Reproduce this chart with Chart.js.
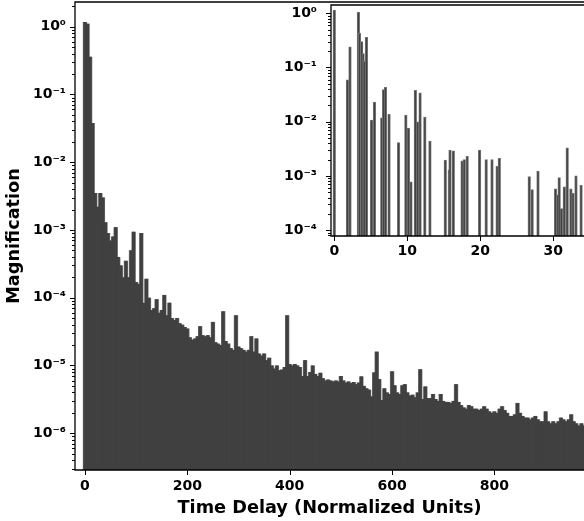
<!DOCTYPE html>
<html>
<head>
<meta charset="utf-8">
<script src="https://cdn.jsdelivr.net/npm/chart.js@4.4.0/dist/chart.umd.min.js"></script>
<style>
  body { margin: 0; background: #fff; }
  #wrap { position: relative; width: 584px; height: 521px; overflow: hidden; }
  #main { position: absolute; left: 0; top: 0; }
  #inset { position: absolute; left: 270px; top: 0; }
</style>
</head>
<body>
<div id="wrap">
  <canvas id="main" width="584" height="521"></canvas>
  <canvas id="inset" width="314" height="270"></canvas>
</div>
<script>
// main histogram: one value per 5-unit delay bin, starting at 0
var binWidth = 5;
var mainValues = [
  1.17, 1.1, 0.36, 0.038, 0.0035, 0.0022, 0.0035, 0.003, 0.0013, 0.0009,
  0.0007, 0.0008, 0.0011, 0.0004, 0.0003, 0.0002, 0.00035, 0.0002, 0.0005, 0.00094,
  0.00017, 0.00016, 0.0009, 8.4e-5, 1.9e-4, 1.0e-4, 6.6e-5, 7e-5, 9.5e-5, 6e-5,
  6.6e-5, 1.1e-4, 5.5e-5, 8.4e-5, 5e-5, 4.7e-5, 5e-5, 4.2e-5, 4.0e-5, 3.7e-5,
  3.5e-5, 2.6e-5, 2.4e-5, 2.5e-5, 2.7e-5, 3.8e-5, 2.8e-5, 2.7e-5, 2.8e-5, 2.6e-5,
  4.4e-5, 2.2e-5, 2.1e-5, 2.0e-5, 6.3e-5, 2.3e-5, 2.1e-5, 1.8e-5, 1.7e-5, 5.5e-5,
  1.9e-5, 1.8e-5, 1.7e-5, 1.6e-5, 1.7e-5, 2.7e-5, 1.6e-5, 2.5e-5, 1.5e-5, 1.4e-5,
  1.5e-5, 1.2e-5, 1.3e-5, 1.0e-5, 9e-6, 1.0e-5, 8.5e-6, 8.7e-6, 9.5e-6, 5.5e-5,
  1.05e-5, 1.0e-5, 1.05e-5, 1.0e-5, 9.5e-6, 7e-6, 1.2e-5, 7e-6, 8e-6, 1.0e-5,
  7.5e-6, 7e-6, 7.8e-6, 6.5e-6, 6e-6, 6.2e-6, 6e-6, 5.8e-6, 6e-6, 5.8e-6,
  7e-6, 6e-6, 5.6e-6, 5.8e-6, 5.5e-6, 5.7e-6, 5.3e-6, 5.6e-6, 6.9e-6, 5e-6,
  4.6e-6, 4.4e-6, 3.5e-6, 7.9e-6, 1.6e-5, 6.3e-6, 3.1e-6, 4.6e-6, 4e-6, 3.8e-6,
  8.2e-6, 5.1e-6, 4e-6, 3.8e-6, 5.1e-6, 5.3e-6, 4e-6, 3.6e-6, 3.7e-6, 3.4e-6,
  4e-6, 8.8e-6, 3.2e-6, 4.9e-6, 3.3e-6, 3.3e-6, 3.8e-6, 3.2e-6, 3.0e-6, 3.8e-6,
  3.0e-6, 2.9e-6, 2.9e-6, 2.8e-6, 3.0e-6, 5.3e-6, 2.9e-6, 2.6e-6, 2.4e-6, 2.3e-6,
  2.6e-6, 2.5e-6, 2.3e-6, 2.3e-6, 2.2e-6, 2.3e-6, 2.5e-6, 2.3e-6, 2.1e-6, 2.0e-6,
  2.1e-6, 2.0e-6, 2.3e-6, 2.5e-6, 2.2e-6, 2.0e-6, 1.8e-6, 1.8e-6, 1.9e-6, 2.8e-6,
  2.0e-6, 1.8e-6, 1.7e-6, 1.7e-6, 1.6e-6, 1.7e-6, 1.8e-6, 1.6e-6, 1.5e-6, 1.5e-6,
  2.1e-6, 1.5e-6, 1.4e-6, 1.5e-6, 1.4e-6, 1.5e-6, 1.7e-6, 1.6e-6, 1.5e-6, 1.6e-6,
  1.9e-6, 1.5e-6, 1.4e-6, 1.3e-6, 1.4e-6, 1.3e-6
];

// inset: zoom on the first ~34 units
var insetDelays = [
  0, 1.8, 2.15, 3.3, 3.45, 3.75, 3.95, 4.1, 4.4, 5.1,
  5.5, 6.5, 6.75, 7.0, 7.5, 8.8, 9.8, 10.15, 10.5, 11.1,
  11.4, 11.75, 12.4, 13.1, 15.2, 15.75, 15.85, 16.3, 17.5, 17.8,
  18.2, 19.9, 20.8, 21.6, 22.3, 22.6, 26.7, 27.1, 27.9, 30.3,
  30.6, 30.8, 31.1, 31.5, 31.9, 32.4, 32.7, 33.1, 33.8
];
var insetValues = [
  1.15, 0.059, 0.24, 1.04, 0.43, 0.30, 0.18, 0.13, 0.36, 0.0107,
  0.023, 0.0118, 0.039, 0.043, 0.0137, 0.0041, 0.0132, 0.0076, 7.8e-4, 0.038,
  0.0099, 0.034, 0.0122, 0.0044, 0.00197, 0.0013, 0.003, 0.0029, 0.0019, 0.002,
  0.0023, 0.003, 0.002, 0.002, 0.0015, 0.0021, 9.7e-4, 5.6e-4, 1.23e-3, 5.8e-4,
  4.5e-4, 9.3e-4, 2.5e-4, 6.3e-4, 3.3e-3, 5.8e-4, 4.8e-4, 1.0e-3, 6.7e-4
];

var mainXTicks = [0, 200, 400, 600, 800];
var insetXTicks = [0, 10, 20, 30];

var FONT = "'DejaVu Sans', sans-serif";
var BAR_FILL = '#404040';
var BAR_EDGE = '#747474';

var sup = {'0':'⁰','1':'¹','2':'²','3':'³','4':'⁴','5':'⁵','6':'⁶','7':'⁷','8':'⁸','9':'⁹','-':'⁻'};

function decadeLabel(value, index, ticks) {
  if (!ticks[index].major) return '';
  var e = Math.round(Math.log10(value));
  return '10' + String(e).split('').map(function (c) { return sup[c]; }).join('');
}

function logTicks(scale) {
  var out = [];
  var lo = Math.floor(Math.log10(scale.min)), hi = Math.ceil(Math.log10(scale.max));
  for (var e = lo; e <= hi; e++) {
    for (var m = 1; m < 10; m++) {
      var v = m * Math.pow(10, e);
      if (v >= scale.min && v <= scale.max) out.push({value: v, major: m === 1});
    }
  }
  scale.ticks = out;
}

// fixed axis box sizes, and no label overflow padding
function fixSize(w, h) {
  return function (s) {
    if (w !== null) s.width = w;
    if (h !== null) s.height = h;
    s.paddingTop = 0; s.paddingBottom = 0; s.paddingLeft = 0; s.paddingRight = 0;
  };
}

// white plot background, spines and tick marks like the original
var decor = {
  id: 'decor',
  beforeDraw: function (chart) {
    var a = chart.chartArea, ctx = chart.ctx;
    ctx.save();
    ctx.fillStyle = '#fff';
    ctx.fillRect(a.left, a.top, a.right - a.left, a.bottom - a.top);
    ctx.restore();
  },
  afterDraw: function (chart) {
    var ctx = chart.ctx, a = chart.chartArea;
    var x = chart.scales.x, y = chart.scales.y;
    ctx.save();
    ctx.strokeStyle = '#000';
    ctx.lineWidth = 1;
    ctx.beginPath();
    y.ticks.forEach(function (t) {
      var py = Math.round(y.getPixelForValue(t.value)) + 0.5;
      var len = t.major ? 5 : 3;
      ctx.moveTo(a.left - len, py);
      ctx.lineTo(a.left, py);
    });
    x.ticks.forEach(function (t) {
      var px = Math.round(x.getPixelForValue(t.value)) + 0.5;
      ctx.moveTo(px, a.bottom);
      ctx.lineTo(px, a.bottom + 5);
    });
    ctx.stroke();
    ctx.lineWidth = 1.3;
    ctx.beginPath();
    ctx.moveTo(a.right + 2, a.top);
    ctx.lineTo(a.left, a.top);
    ctx.lineTo(a.left, a.bottom);
    ctx.lineTo(a.right + 2, a.bottom);
    ctx.stroke();
    ctx.restore();
  }
};

var tickFont = {family: FONT, size: 14, weight: 'bold'};
var titleFont = {family: FONT, size: 17.7, weight: 'bold', lineHeight: 1.2};
var mainPoints = mainValues.map(function (v, i) { return {x: i * binWidth, y: v}; });

new Chart(document.getElementById('main'), {
  type: 'bar',
  data: {
    datasets: [{
      // dark bar bodies (drawn on top)
      data: mainPoints,
      backgroundColor: BAR_FILL,
      borderWidth: 0,
      grouped: false,
      categoryPercentage: 1,
      barPercentage: 1.25
    }, {
      // slightly wider lighter copy behind: shows as edges where a bar sticks out
      data: mainPoints,
      backgroundColor: BAR_EDGE,
      borderWidth: 0,
      grouped: false,
      categoryPercentage: 1,
      barPercentage: 1.7
    }]
  },
  options: {
    responsive: false,
    animation: false,
    devicePixelRatio: 1,
    layout: {autoPadding: false, padding: {top: 2, left: 0, right: 0, bottom: 0}},
    plugins: {legend: {display: false}, tooltip: {enabled: false}},
    scales: {
      x: {
        type: 'linear', min: -19.5, max: 975, offset: false,
        afterBuildTicks: function (s) { s.ticks = mainXTicks.map(function (v) { return {value: v}; }); },
        afterFit: fixSize(null, 51),
        grid: {display: false, drawTicks: false},
        border: {display: false},
        ticks: {padding: 8, maxRotation: 0, autoSkip: false, color: '#000', font: tickFont,
          callback: function (v) { return String(v); }},
        title: {display: true, text: 'Time Delay (Normalized Units)', color: '#000',
          font: titleFont, padding: {top: 0, bottom: 2}}
      },
      y: {
        type: 'logarithmic', min: 2.87e-7, max: 2.31,
        afterBuildTicks: logTicks,
        afterFit: fixSize(75, null),
        grid: {display: false, drawTicks: false},
        border: {display: false},
        ticks: {padding: 9, autoSkip: false, color: '#000', font: tickFont, callback: decadeLabel},
        title: {display: true, text: 'Magnification', color: '#000',
          font: titleFont, padding: {top: 4, bottom: 0}}
      }
    }
  },
  plugins: [decor]
});

new Chart(document.getElementById('inset'), {
  type: 'bar',
  data: {
    datasets: [{
      data: insetDelays.map(function (d, i) { return {x: d, y: insetValues[i]}; }),
      backgroundColor: BAR_FILL,
      borderColor: BAR_EDGE,
      borderWidth: 1,
      borderSkipped: 'start',
      barThickness: 2.6
    }]
  },
  options: {
    responsive: false,
    animation: false,
    devicePixelRatio: 1,
    layout: {autoPadding: false, padding: {top: 5, left: 0, right: 0, bottom: 0}},
    plugins: {legend: {display: false}, tooltip: {enabled: false}},
    scales: {
      x: {
        type: 'linear', min: -0.45, max: 34.2, offset: false,
        afterBuildTicks: function (s) { s.ticks = insetXTicks.map(function (v) { return {value: v}; }); },
        afterFit: fixSize(null, 34),
        grid: {display: false, drawTicks: false},
        border: {display: false},
        ticks: {padding: 7, maxRotation: 0, autoSkip: false, color: '#000', font: tickFont,
          callback: function (v) { return String(v); }}
      },
      y: {
        type: 'logarithmic', min: 7.8e-5, max: 1.42,
        afterBuildTicks: logTicks,
        afterFit: fixSize(61, null),
        grid: {display: false, drawTicks: false},
        border: {display: false},
        ticks: {padding: 14, autoSkip: false, color: '#000', font: tickFont, callback: decadeLabel}
      }
    }
  },
  plugins: [decor]
});
</script>
</body>
</html>
